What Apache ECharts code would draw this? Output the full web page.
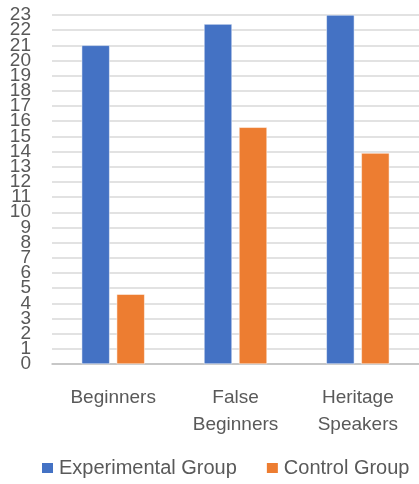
<!DOCTYPE html>
<html>
<head>
<meta charset="utf-8">
<script src="https://cdn.jsdelivr.net/npm/echarts@6/dist/echarts.min.js"></script>
<style>
  html, body { margin: 0; padding: 0; background: #fff; }
  #chart { width: 419px; height: 484px; }
</style>
</head>
<body>
<div id="chart"></div>
<script>
// Group categories and scores
const categories = ['Beginners', 'False\nBeginners', 'Heritage\nSpeakers'];
const experimentalGroup = [21, 22.4, 23];
const controlGroup = [4.6, 15.6, 13.9];
const yTicks = { min: 0, max: 23, interval: 1 };

const textColor = '#595959';
const fontFamily = 'Liberation Sans, Arial, sans-serif';

// The tick labels are packed tighter than their glyph height, so even and odd
// values go on two overlaid axes to keep ECharts from dropping any of them.
function valueAxis(parity, withGrid) {
  return {
    type: 'value',
    position: 'left',
    min: yTicks.min,
    max: yTicks.max,
    interval: yTicks.interval,
    axisLine: { show: false },
    axisTick: { show: false },
    splitLine: { show: withGrid, lineStyle: { color: '#D9D9D9', width: 1.5 } },
    axisLabel: {
      color: textColor,
      fontSize: 19,
      fontFamily: fontFamily,
      margin: 21,
      showMinLabel: true,
      showMaxLabel: true,
      formatter: v => (Math.round(v) % 2 === parity ? String(v) : '')
    }
  };
}

const chart = echarts.init(document.getElementById('chart'));
chart.setOption({
  animation: false,
  grid: { left: 52, right: -3, top: 15, bottom: 120, containLabel: false },
  legend: {
    bottom: 6,
    left: 40,
    width: 379,
    padding: 0,
    itemWidth: 13,
    itemHeight: 12,
    itemGap: 28,
    icon: 'rect',
    textStyle: { color: textColor, fontSize: 20, fontFamily: fontFamily },
    data: ['Experimental Group', 'Control Group']
  },
  xAxis: {
    type: 'category',
    data: categories,
    axisTick: { show: false },
    axisLine: { lineStyle: { color: '#BFBFBF', width: 1.5 } },
    axisLabel: {
      color: textColor,
      fontSize: 19,
      fontFamily: fontFamily,
      margin: 20,
      lineHeight: 27
    }
  },
  yAxis: [valueAxis(0, true), valueAxis(1, false)],
  series: [
    {
      name: 'Experimental Group',
      type: 'bar',
      yAxisIndex: 0,
      data: experimentalGroup,
      barWidth: 28,
      barGap: '25%',
      itemStyle: { color: '#4472C4', borderColor: '#ffffff', borderWidth: 0.5 }
    },
    {
      name: 'Control Group',
      type: 'bar',
      yAxisIndex: 0,
      data: controlGroup,
      barWidth: 28,
      itemStyle: { color: '#ED7D31', borderColor: '#ffffff', borderWidth: 0.5 }
    }
  ]
});
</script>
</body>
</html>
